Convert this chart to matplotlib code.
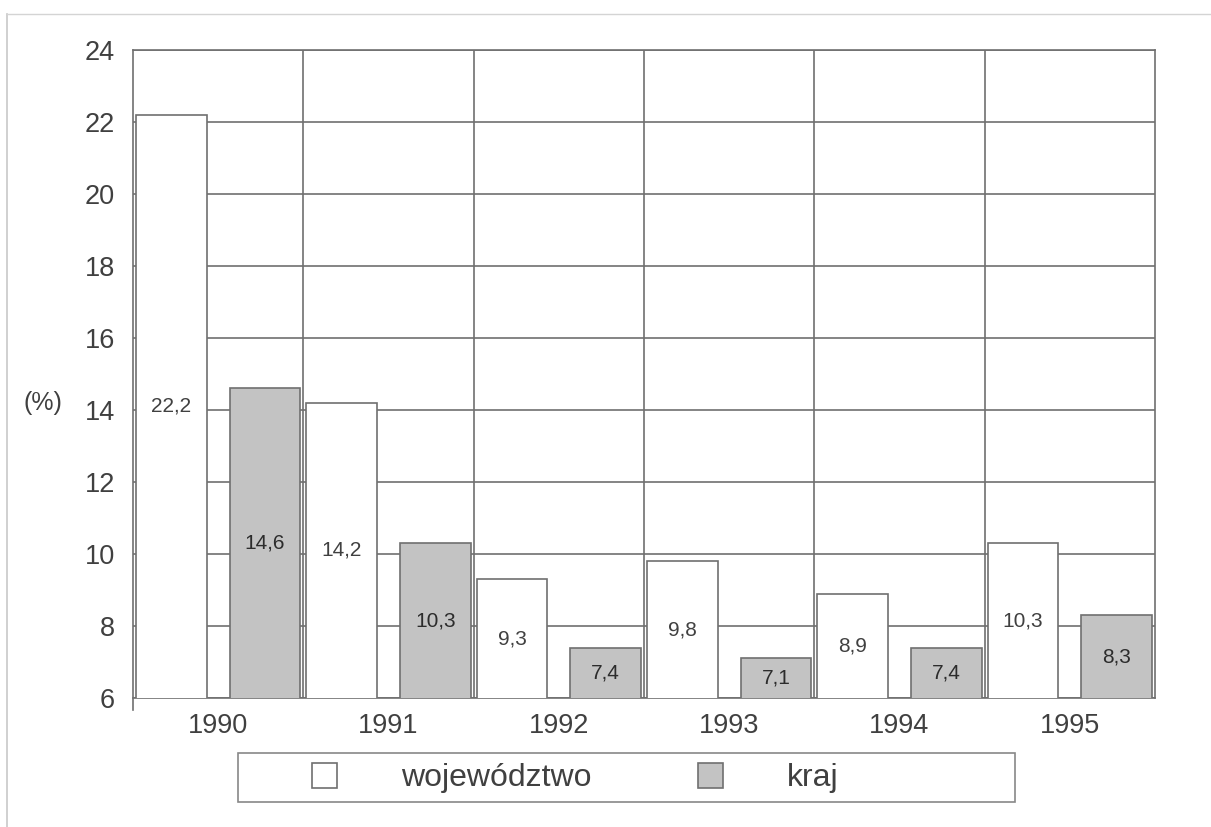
import numpy as np
import matplotlib
matplotlib.use("Agg")
import matplotlib.pyplot as plt
from matplotlib.patches import Rectangle
from matplotlib.lines import Line2D

plt.rcParams['font.family'] = ['Liberation Sans', 'DejaVu Sans']

lata = ['1990', '1991', '1992', '1993', '1994', '1995']
wojewodztwo = [22.2, 14.2, 9.3, 9.8, 8.9, 10.3]
kraj = [14.6, 10.3, 7.4, 7.1, 7.4, 8.3]

W, H = 1211, 827
fig = plt.figure(figsize=(W / 100, H / 100), dpi=100)
ax = fig.add_axes([133 / W, 1 - 698 / H, (1155 - 133) / W, (698 - 50) / H])

txt = '#404040'
line = '#707070'
x = np.arange(len(lata))
off, bw = 0.275, 0.415

b1 = ax.bar(x - off, wojewodztwo, width=bw, color='white', edgecolor=line,
            linewidth=1.2, zorder=3, label='województwo')
b2 = ax.bar(x + off, kraj, width=bw, color='#c3c3c3', edgecolor=line,
            linewidth=1.2, zorder=3, label='kraj')

# wartości w połowie wysokości słupka
for xi, v in zip(x, wojewodztwo):
    ax.text(xi - off, (6 + v) / 2, f'{v:.1f}'.replace('.', ','), ha='center',
            va='center', fontsize=15, color=txt, zorder=4)
for xi, v in zip(x, kraj):
    ax.text(xi + off, (6 + v) / 2, f'{v:.1f}'.replace('.', ','), ha='center',
            va='center', fontsize=15, color='#2c2c2c', zorder=4)

ax.set_xlim(-0.5, 5.5)
ax.set_ylim(6, 24)
ax.set_yticks(range(6, 25, 2))
ax.set_xticks(x)
ax.set_xticklabels(lata)
ax.yaxis.grid(True, color=line, linewidth=1.2)
for b in x[:-1] + 0.5:
    ax.axvline(b, color=line, linewidth=1.2, zorder=1)
ax.set_axisbelow(True)

for s in ax.spines.values():
    s.set_color(line)
    s.set_linewidth(1.2)
ax.spines['left'].set_bounds(5.67, 24)

ax.tick_params(axis='y', length=0, pad=13, labelsize=19.5, labelcolor=txt)
ax.tick_params(axis='x', length=0, pad=11, labelsize=19.5, labelcolor=txt)

ax.set_ylabel('(%)', rotation=0, fontsize=18, color=txt, ha='center', va='center')
ax.yaxis.set_label_coords(-0.088, 0.455)

# legenda pod wykresem
fig.add_artist(Rectangle((238 / W, 1 - 802 / H), (1015 - 238) / W, 49 / H,
                         transform=fig.transFigure, fill=False,
                         edgecolor='#888888', linewidth=1.2))
fig.legend(handles=[b1, b2], loc='center left',
           bbox_to_anchor=(296 / W, 1 - 778 / H), ncol=2, frameon=False,
           fontsize=23, handlelength=0.78, handleheight=0.82,
           handletextpad=2.0, columnspacing=3.35, borderpad=0,
           labelcolor=txt)

# ramka strony
fig.add_artist(Line2D([7 / W, 7 / W], [0, 1 - 14 / H], transform=fig.transFigure,
                      color='#c8c8c8', linewidth=1.2))
fig.add_artist(Line2D([7 / W, 1], [1 - 14 / H, 1 - 14 / H], transform=fig.transFigure,
                      color='#d4d4d4', linewidth=1.0))

fig.savefig('out.png', dpi=100)
